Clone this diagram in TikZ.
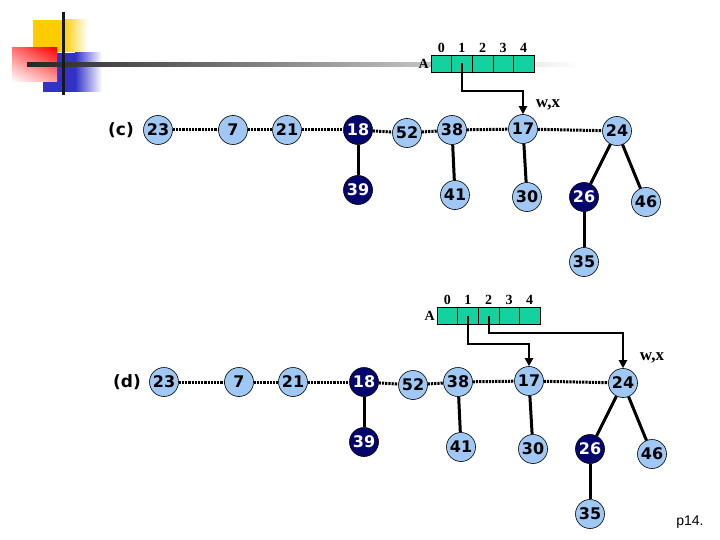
\documentclass[tikz,border=0pt]{standalone}
\usepackage{fontspec}
\setmainfont{Liberation Serif}
\newfontfamily\numfont{DejaVu Sans}
\newfontfamily\notefont{Liberation Sans}
\usetikzlibrary{arrows.meta, positioning, shadings}

\definecolor{keyblue}{RGB}{160,200,245}
\definecolor{marknavy}{RGB}{5,5,110}
\definecolor{slotgreen}{RGB}{20,210,160}
\definecolor{logoyellow}{RGB}{255,204,0}
\definecolor{logoblue}{RGB}{50,50,200}

\tikzset{
  key/.style={circle, draw=black, line width=0.6pt, fill=keyblue, minimum size=29pt, inner sep=0pt,
    font=\numfont\bfseries\fontsize{16}{16}\selectfont},
  marked/.style={key, fill=marknavy, text=white},
  slot/.style={draw=black, line width=0.6pt, fill=slotgreen, minimum width=20.6pt, minimum height=17pt,
    inner sep=0pt, outer sep=0pt},
  rootlink/.style={line width=3pt, dash pattern=on 2.2pt off 1pt},
  childlink/.style={line width=3pt},
  ptr/.style={line width=2pt, -{Triangle[length=8pt,width=8pt]}},
  serifbold/.style={font=\bfseries\fontsize{14}{14}\selectfont}
}

\begin{document}
\begin{tikzpicture}[x=1pt, y=-1pt]
  \useasboundingbox (0,0) rectangle (720,540);
  % slide logo
  \fill[logoyellow] (33,20) rectangle (63,52);
  \shade[left color=logoyellow, right color=white] (63,20) rectangle (88,52);
  \fill[logoblue] (43,53) rectangle (75,92);
  \shade[left color=logoblue, right color=white] (75,53) rectangle (102,92);
  \shade[upper left=red!55, upper right=red, lower left=white, lower right=red!35] (12,48) rectangle (57,82);
  \shade[left color=black!85, right color=white] (27,63) rectangle (580,67);
  \draw[line width=3pt, black!90] (63,12) -- (63,95);

  % the two heaps, (d) drawn as a shifted copy of (c)
  \foreach \p/\dx/\dy in {c/0/0, d/6/252}{
    \begin{scope}[shift={(\dx,\dy)}]
      \node[font=\numfont\bfseries\fontsize{17}{17}\selectfont] (\p lbl) at (121,130) {(\p)};
      \node[key] (\p23) at (158,130) {23};
      \node[key] (\p7) at (233,130) {7};
      \node[key] (\p21) at (287,130) {21};
      \node[marked] (\p18) at (358,130) {18};
      \node[marked] (\p39) at (358,190) {39};
      \node[key] (\p52) at (407,133) {52};
      \node[key] (\p38) at (452,130) {38};
      \node[key] (\p41) at (455,195) {41};
      \node[key] (\p17) at (523,129) {17};
      \node[key] (\p30) at (527,197) {30};
      \node[key] (\p24) at (617,131) {24};
      \node[marked] (\p26) at (584,197) {26};
      \node[key] (\p46) at (646,202) {46};
      \node[key] (\p35) at (584,262) {35};
      \foreach \u/\v in {23/7, 7/21, 21/18, 18/52, 52/38, 38/17, 17/24}
        \draw[rootlink] (\p\u) -- (\p\v);
      \foreach \u/\v in {18/39, 38/41, 17/30, 24/26, 24/46, 26/35}
        \draw[childlink] (\p\u) -- (\p\v);
      % array A
      \foreach \i in {0,...,4}
        \node[slot, label={[serifbold, label distance=-1pt]above:\i}] (\p s\i) at ({441.3+20.6*\i},63.5) {};
      \node[serifbold, anchor=east, inner sep=2pt] (\p A) at (\p s0.west) {A};
    \end{scope}
  }

  \draw[ptr] (cs1.center) -- ++(0,28) -| (c17.north);
  \node[font=\bfseries\fontsize{17}{17}\selectfont] (cwx) at (548,105) {w,x};
  \draw[ptr] (ds1.center) -- ++(0,28) -| (d17.north);
  \draw[ptr] (ds2.center) -- ++(0,17) -| (d24.north);
  \node[font=\bfseries\fontsize{17}{17}\selectfont] (dwx) at (652,358) {w,x};

  \node[font=\notefont\fontsize{14}{14}\selectfont] (pagenum) at (690,522) {p14.};
\end{tikzpicture}
\end{document}
